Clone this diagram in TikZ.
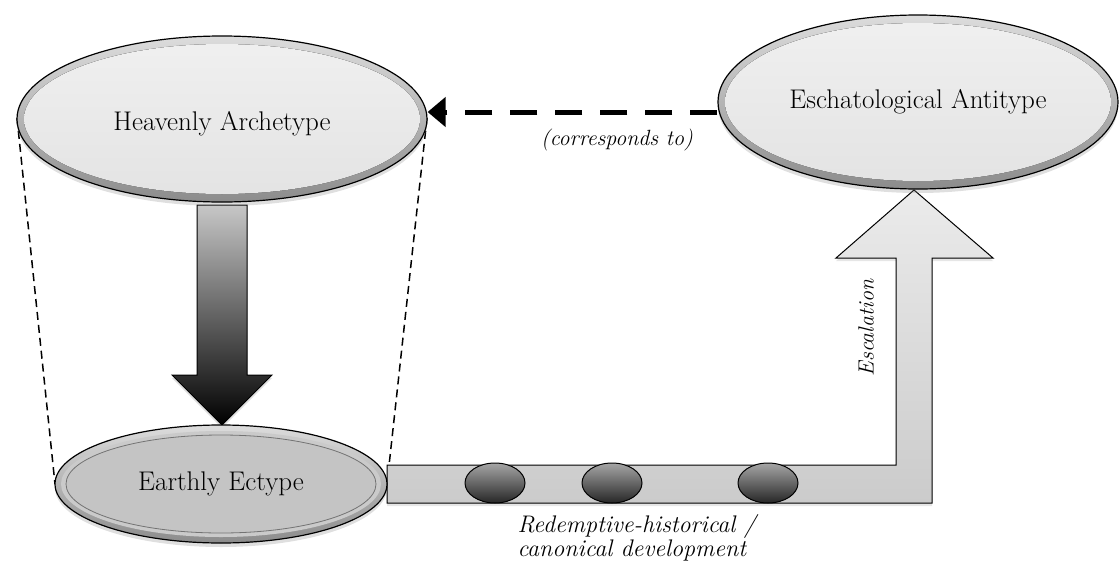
\documentclass[tikz,border=0pt]{standalone}
\usetikzlibrary{shapes.geometric,arrows.meta,shadows,calc}
\definecolor{heavin}{HTML}{E3E3E3}
\definecolor{heavintop}{HTML}{F0F0F0}
\definecolor{ringtop}{HTML}{DCDCDC}
\definecolor{ringbot}{HTML}{8C8C8C}
\definecolor{earthin}{HTML}{C4C4C4}
\definecolor{barfill}{HTML}{CBCBCB}
\definecolor{uptop}{HTML}{EBEBEB}
\tikzset{
  bigell/.style={ellipse, inner sep=0pt, draw=black, line width=1.2pt,
    top color=ringtop, bottom color=ringbot,
    drop shadow={opacity=0.25, shadow xshift=0pt, shadow yshift=-4pt}},
  lbl/.style={font=\fontsize{27}{31}\selectfont},
  ilbl/.style={font=\fontsize{22}{23}\selectfont\itshape},
  bead/.style={ellipse, inner sep=0pt, minimum width=60pt, minimum height=40pt,
    draw=black, line width=1pt, top color=black!35, bottom color=black!85},
  guide/.style={line width=1.5pt, dash pattern=on 8pt off 5pt},
  corr/.style={line width=5pt, dash pattern=on 27pt off 18pt,
    -{Triangle[length=18pt,width=29pt]}}
}
\begin{document}
\begin{tikzpicture}[x=1pt,y=-1pt]
\useasboundingbox (0,0) rectangle (1119,565);

% dashed guide lines (behind ellipses)
\coordinate (hw) at (17,118);
\coordinate (he) at (427,118);
\coordinate (ew) at (55,484);
\coordinate (ee) at (387,484);
\draw[guide] (hw) -- (ew);
\draw[guide] (he) -- (ee);

% down arrow
\draw[line width=1pt, top color=black!22, bottom color=black,
  drop shadow={opacity=0.25, shadow xshift=0pt, shadow yshift=-3pt}]
  (197,205) -- (247,205) -- (247,375) -- (272,375) -- (222,425)
  -- (172,375) -- (197,375) -- cycle;

% bar and up arrow
\draw[line width=1pt, top color=uptop, bottom color=barfill,
  drop shadow={opacity=0.2, shadow xshift=0pt, shadow yshift=-3pt}]
  (387,465) -- (896,465) -- (896,258) -- (836,258) -- (914,190)
  -- (993,258) -- (932,258) -- (932,503) -- (387,503) -- cycle;

% ellipses
\node[bigell, minimum width=410pt, minimum height=166pt,
  path picture={\fill[top color=heavintop, bottom color=heavin]
    (path picture bounding box.center) ellipse [x radius=198, y radius=75];}]
  (heav) at (222,119) {};
\node[lbl] (heavt) at (222,124) {Heavenly Archetype};

\node[bigell, minimum width=400pt, minimum height=174pt,
  path picture={\fill[top color=heavintop, bottom color=heavin]
    (path picture bounding box.center) ellipse [x radius=193, y radius=79];}]
  (esch) at (918,102) {};
\node[lbl] (escht) at (esch.center) {Eschatological Antitype};

\node[bigell, minimum width=332pt, minimum height=118pt,
  path picture={
    \fill[earthin!90!white] (path picture bounding box.center) ellipse [x radius=160, y radius=53];
    \draw[black!55, line width=0.8pt, fill=earthin] (path picture bounding box.center) ellipse [x radius=155, y radius=49];}]
  (earth) at (221,484) {};
\node[lbl] (eartht) at (earth.center) {Earthly Ectype};

% beads
\node[bead] (b1) at (495,483) {};
\node[bead] (b2) at (612,483) {};
\node[bead] (b3) at (768,483) {};

% corresponds-to arrow
\coordinate (cy) at (0,112);
\draw[corr] (esch.west |- cy) -- (heav.east |- cy);

% labels
\node[ilbl] (corrl) at (617,140) {(corresponds to)};
\node[ilbl, rotate=90] (escl) at (866,328) {Escalation};
\node[ilbl, font=\fontsize{24}{24}\selectfont\itshape, align=left, anchor=west] (redl) at (514,538)
  {Redemptive-historical /\\canonical development};
\end{tikzpicture}
\end{document}
